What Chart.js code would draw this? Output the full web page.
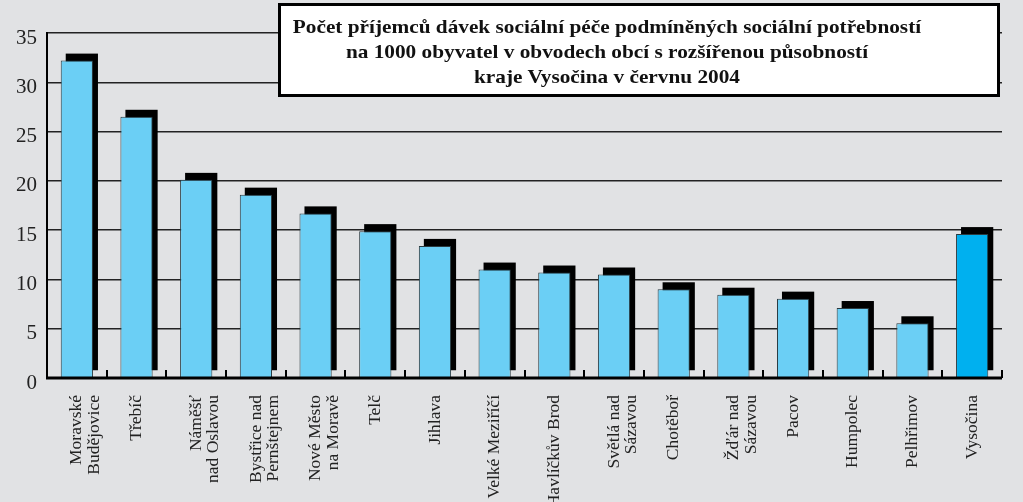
<!DOCTYPE html>
<html>
<head>
<meta charset="utf-8">
<script src="https://cdn.jsdelivr.net/npm/chart.js@4.4.0/dist/chart.umd.min.js"></script>
<style>
  html, body { margin: 0; padding: 0; background: #e1e2e4; }
  #wrap { position: relative; width: 1023px; height: 502px; }
  #titleBox {
    position: absolute; left: 278px; top: 3px; width: 722px; height: 94px;
    border: 3px solid #000; background: #fff; box-sizing: border-box;
  }
  #titleText {
    position: absolute; left: 0; top: 8px; width: 652px;
    font-family: "Liberation Serif", serif; font-weight: bold; font-size: 19px;
    line-height: 25px; text-align: center; color: #111;
    transform: scaleX(1.12); transform-origin: 50% 0;
  }
</style>
</head>
<body>
<div id="wrap">
  <canvas id="chart" width="1023" height="502"></canvas>
  <div id="titleBox"><div id="titleText">Počet příjemců dávek sociální péče podmíněných sociální potřebností<br>na 1000 obyvatel v obvodech obcí s rozšířenou působností<br>kraje Vysočina v červnu 2004</div></div>
</div>
<script>
// Data
const districts = [
    ['Moravské', 'Budějovice'], 'Třebíč', ['Náměšť', 'nad Oslavou'], ['Bystřice nad', 'Pernštejnem'],
    ['Nové Město', 'na Moravě'], 'Telč', 'Jihlava', 'Velké Meziříčí', 'Havlíčkův Brod',
    ['Světlá nad', 'Sázavou'], 'Chotěboř', ['Žďár nad', 'Sázavou'], 'Pacov', 'Humpolec',
    'Pelhřimov', 'Vysočina'
];
const recipientsPer1000 = [32.2, 26.5, 20.1, 18.6, 16.7, 14.9, 13.4, 11.0, 10.7, 10.5, 9.0, 8.45, 8.05, 7.1, 5.55, 14.6];
const yTicks = [0, 5, 10, 15, 20, 25, 30, 35];

const barColors = districts.map(d => d === 'Vysočina' ? '#00b0ef' : '#6bcff5');

// Black offset "shadow" behind each bar plus small upward ticks on the x axis
const shadowPlugin = {
    id: 'shadowBars',
    beforeDatasetsDraw(chart) {
        const ctx = chart.ctx;
        const meta = chart.getDatasetMeta(0);
        ctx.save();
        ctx.fillStyle = '#000';
        meta.data.forEach(bar => {
            const p = bar.getProps(['x', 'y', 'width', 'base'], true);
            ctx.fillRect(p.x - p.width / 2 + 5, p.y - 7, p.width, p.base - p.y);
        });
        ctx.restore();
    },
    afterDatasetsDraw(chart) {
        const ctx = chart.ctx;
        const xs = chart.scales.x;
        const area = chart.chartArea;
        const step = xs.getPixelForTick(1) - xs.getPixelForTick(0);
        ctx.save();
        ctx.strokeStyle = '#000';
        ctx.lineWidth = 2;
        for (let i = 0; i < districts.length; i++) {
            const bx = Math.round(xs.getPixelForTick(i) + step / 2);
            ctx.beginPath();
            ctx.moveTo(bx, area.bottom);
            ctx.lineTo(bx, area.bottom - 8);
            ctx.stroke();
        }
        // thick bottom axis line
        ctx.lineWidth = 3;
        ctx.beginPath();
        ctx.moveTo(area.left - 1, area.bottom);
        ctx.lineTo(area.right, area.bottom);
        ctx.stroke();
        ctx.restore();
    }
};

const ctx = document.getElementById('chart').getContext('2d');
new Chart(ctx, {
    type: 'bar',
    data: {
        labels: districts,
        datasets: [{
            data: recipientsPer1000,
            backgroundColor: barColors,
            borderColor: '#2a3a40',
            borderWidth: 1,
            barPercentage: 0.54,
            categoryPercentage: 1
        }]
    },
    options: {
        responsive: false,
        animation: false,
        layout: { padding: { top: 33, right: 21, bottom: 0, left: 0 } },
        plugins: {
            legend: { display: false },
            tooltip: { enabled: false }
        },
        scales: {
            x: {
                grid: { display: false, drawTicks: false },
                border: { display: false },
                ticks: {
                    minRotation: 90,
                    maxRotation: 90,
                    autoSkip: false,
                    padding: 17,
                    color: '#222',
                    font: { family: 'Liberation Serif', size: 17.5, lineHeight: 1 }
                },
                afterFit(scale) { scale.height = 124; }
            },
            y: {
                min: 0,
                max: 35,
                afterBuildTicks(scale) { scale.ticks = yTicks.map(v => ({ value: v })); },
                grid: { color: '#222', lineWidth: 1.5, drawTicks: false },
                border: { display: true, color: '#000', width: 2 },
                ticks: {
                    padding: 10,
                    labelOffset: 5,
                    color: '#222',
                    font: { family: 'Liberation Serif', size: 21 }
                },
                afterFit(scale) { scale.width = 47; }
            }
        }
    },
    plugins: [shadowPlugin]
});
</script>
</body>
</html>
